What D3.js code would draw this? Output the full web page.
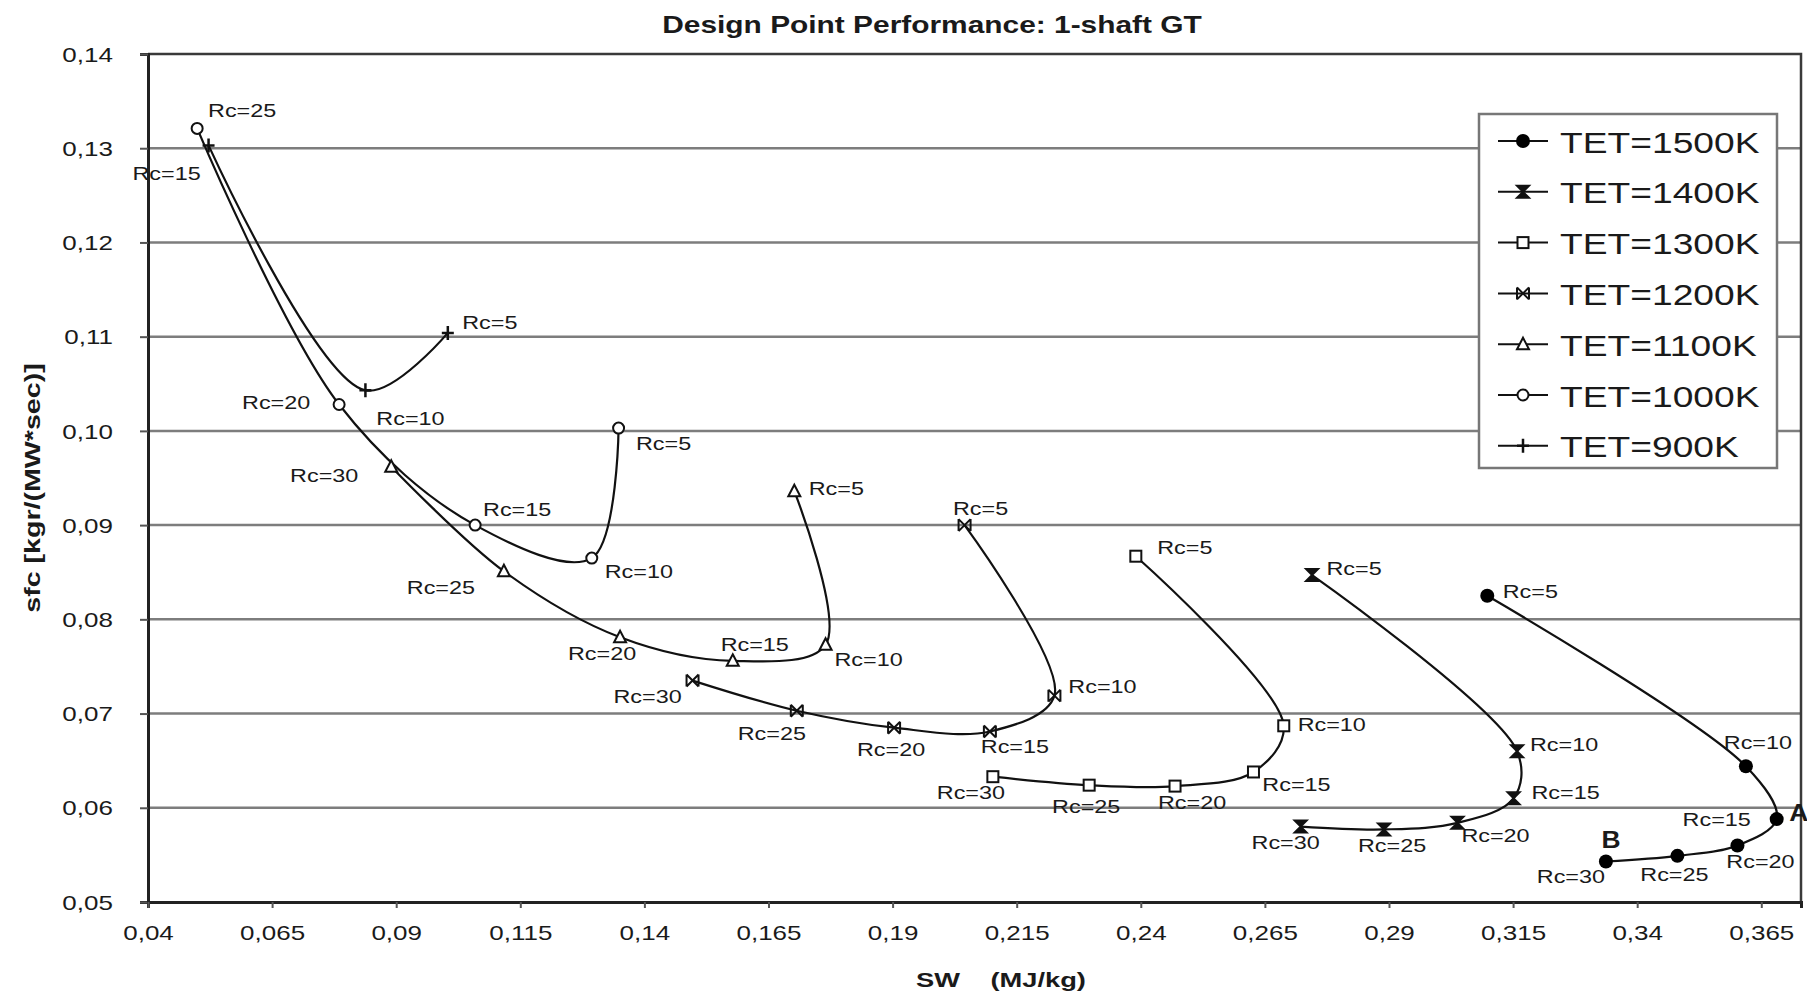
<!DOCTYPE html>
<html>
<head>
<meta charset="utf-8">
<script src="https://cdn.jsdelivr.net/npm/d3@7"></script>
<style>
  body { margin: 0; background: #fff; }
  text { font-family: "Liberation Sans", Arial, sans-serif; fill: #1a1a1a; white-space: pre; }
</style>
</head>
<body>
<div id="chart"></div>
<script>
/* Design point performance of a 1-shaft GT: sfc vs specific work, one curve per TET */

const xTicks = [0.04, 0.065, 0.09, 0.115, 0.14, 0.165, 0.19, 0.215, 0.24, 0.265, 0.29, 0.315, 0.34, 0.365];
const yTicks = [0.05, 0.06, 0.07, 0.08, 0.09, 0.10, 0.11, 0.12, 0.13, 0.14];

const seriesNames = ["TET=1500K", "TET=1400K", "TET=1300K", "TET=1200K", "TET=1100K", "TET=1000K", "TET=900K"];

// pressure ratios (Rc) of each curve
const rcT1500 = [5, 10, 15, 20, 25, 30];
const rcT1400 = [5, 10, 15, 20, 25, 30];
const rcT1300 = [5, 10, 15, 20, 25, 30];
const rcT1200 = [5, 10, 15, 20, 25, 30];
const rcT1100 = [5, 10, 15, 20, 25, 30];
const rcT1000 = [5, 10, 15, 20, 25];
const rcT900  = [5, 10, 15];

// specific work SW (MJ/kg)
const swT1500 = [0.3098, 0.3619, 0.3681, 0.3602, 0.3481, 0.3337];
const swT1400 = [0.2745, 0.3158, 0.3151, 0.3038, 0.2890, 0.2722];
const swT1300 = [0.2390, 0.2688, 0.2627, 0.2469, 0.2296, 0.2102];
const swT1200 = [0.2045, 0.2226, 0.2096, 0.1903, 0.1707, 0.1497];
const swT1100 = [0.1702, 0.1765, 0.1578, 0.1351, 0.1117, 0.0890];
const swT1000 = [0.1348, 0.1294, 0.1059, 0.0785, 0.0499];
const swT900  = [0.1004, 0.0838, 0.0522];

// sfc [kgr/(MW*sec)]
const sfcT1500 = [0.0825, 0.0644, 0.0588, 0.0560, 0.0549, 0.0543];
const sfcT1400 = [0.0847, 0.0660, 0.0610, 0.0584, 0.0577, 0.0580];
const sfcT1300 = [0.0867, 0.0687, 0.0638, 0.0623, 0.0624, 0.0633];
const sfcT1200 = [0.0900, 0.0719, 0.0681, 0.0685, 0.0703, 0.0735];
const sfcT1100 = [0.0936, 0.0773, 0.0756, 0.0781, 0.0851, 0.0962];
const sfcT1000 = [0.1003, 0.0865, 0.0900, 0.1028, 0.1321];
const sfcT900  = [0.1104, 0.1043, 0.1303];

const width = 1807, height = 996;
const margin = { top: 54, right: 6, bottom: 94, left: 148 };

// label placement (px offset from the point, in Rc order)
const labelOffsets = {
  "TET=1500K": [[43, -4], [12, -24], [-60, 0], [23, 16], [-3, 19], [-35, 15]],
  "TET=1400K": [[42, -7], [47, -7], [52, -6], [38, 13], [8, 16], [-15, 16]],
  "TET=1300K": [[49, -9], [48, -1], [43, 13], [17, 16], [-3, 21], [-22, 16]],
  "TET=1200K": [[16, -17], [48, -9], [25, 15], [-3, 22], [-25, 23], [-45, 16]],
  "TET=1100K": [[42, -3], [43, 15], [22, -16], [-18, 16], [-63, 16], [-67, 9]],
  "TET=1000K": [[45, 15], [47, 13], [42, -16], [-63, -2], [45, -18]],
  "TET=900K":  [[42, -10], [45, 28], [-42, 28]]
};

const markerType = {
  "TET=1500K": "dot", "TET=1400K": "hourglass", "TET=1300K": "square",
  "TET=1200K": "bowtie", "TET=1100K": "triangle", "TET=1000K": "circle", "TET=900K": "plus"
};

const table = [
  { name: "TET=1500K", rc: rcT1500, sw: swT1500, sfc: sfcT1500 },
  { name: "TET=1400K", rc: rcT1400, sw: swT1400, sfc: sfcT1400 },
  { name: "TET=1300K", rc: rcT1300, sw: swT1300, sfc: sfcT1300 },
  { name: "TET=1200K", rc: rcT1200, sw: swT1200, sfc: sfcT1200 },
  { name: "TET=1100K", rc: rcT1100, sw: swT1100, sfc: sfcT1100 },
  { name: "TET=1000K", rc: rcT1000, sw: swT1000, sfc: sfcT1000 },
  { name: "TET=900K",  rc: rcT900,  sw: swT900,  sfc: sfcT900 }
].map(s => ({ name: s.name, points: s.rc.map((r, i) => ({ rc: r, sw: s.sw[i], sfc: s.sfc[i], i })) }));

let svg = d3.select("#chart")
  .append("svg")
  .attr("width", width)
  .attr("height", height)
  .attr("viewBox", [0, 0, width, height]);

let x = d3.scaleLinear()
  .domain([0.04, 0.373])
  .range([margin.left, width - margin.right]);

let y = d3.scaleLinear()
  .domain([0.05, 0.14])
  .range([height - margin.bottom, margin.top]);

const comma = v => String(v).replace(".", ",");

// stretched text, like the scan
function addText(parent, px, py, str, size, weight, sx, anchor) {
  return parent.append("text")
    .attr("transform", `translate(${px},${py}) scale(${sx},1)`)
    .attr("text-anchor", anchor || "middle")
    .attr("dominant-baseline", "central")
    .attr("font-size", size)
    .attr("font-weight", weight || "normal")
    .text(str);
}

// gridlines
svg.append("g")
  .selectAll("line")
  .data(yTicks.slice(1, -1))
  .join("line")
  .attr("x1", margin.left)
  .attr("x2", width - margin.right)
  .attr("y1", d => y(d))
  .attr("y2", d => y(d))
  .attr("stroke", "#7d7d7d")
  .attr("stroke-width", 2.5);

// frame: top and right
svg.append("path")
  .attr("d", `M${margin.left},${y(0.14)}H${x(0.373)}V${y(0.05)}`)
  .attr("fill", "none")
  .attr("stroke", "#3a3a3a")
  .attr("stroke-width", 2.5);

// axes
let yAxis = svg.append("g")
  .attr("transform", `translate(${margin.left},0)`)
  .call(d3.axisLeft(y).tickValues(yTicks).tickFormat(d => comma(d3.format(".2f")(d))).tickSize(8).tickPadding(19));

let xAxis = svg.append("g")
  .attr("transform", `translate(0,${height - margin.bottom})`)
  .call(d3.axisBottom(x).tickValues(xTicks).tickFormat(comma).tickSize(6).tickPadding(14));

[yAxis, xAxis].forEach(ax => {
  ax.select(".domain").attr("stroke", "#222").attr("stroke-width", 3);
  ax.selectAll(".tick line").attr("stroke", "#555").attr("stroke-width", 2);
  ax.selectAll(".tick text")
    .attr("font-size", 20)
    .attr("fill", "#1a1a1a")
    .attr("transform", "scale(1.3,1)");
});
yAxis.selectAll(".tick text").attr("dy", "0.36em");
xAxis.selectAll(".tick text").attr("dy", "0.9em");

// curves
let line = d3.line()
  .x(d => x(d.sw))
  .y(d => y(d.sfc))
  .curve(d3.curveCatmullRom.alpha(0.5));

svg.append("g")
  .selectAll("path")
  .data(table)
  .join("path")
  .attr("d", d => line(d.points))
  .attr("fill", "none")
  .attr("stroke", "#111")
  .attr("stroke-width", 2.2);

function drawMarker(g, type) {
  if (type === "dot") {
    g.append("circle").attr("r", 7).attr("fill", "#000");
  } else if (type === "circle") {
    g.append("circle").attr("r", 5.5).attr("fill", "#fff").attr("stroke", "#111").attr("stroke-width", 2);
  } else if (type === "square") {
    g.append("rect").attr("x", -5.5).attr("y", -5.5).attr("width", 11).attr("height", 11)
      .attr("fill", "#fff").attr("stroke", "#111").attr("stroke-width", 2);
  } else if (type === "triangle") {
    g.append("path").attr("d", "M0,-6.5L6,5L-6,5Z").attr("fill", "#fff").attr("stroke", "#111").attr("stroke-width", 2);
  } else if (type === "hourglass") {
    g.append("path").attr("d", "M-6,-6H6L-6,6H6Z").attr("fill", "#111").attr("stroke", "#111").attr("stroke-width", 2);
  } else if (type === "bowtie") {
    g.append("path").attr("d", "M-6,-6L6,6M-6,6L6,-6M-6,-6V6M6,-6V6").attr("fill", "none").attr("stroke", "#111").attr("stroke-width", 2);
  } else if (type === "plus") {
    g.append("path").attr("d", "M-6,0H6M0,-7V7").attr("fill", "none").attr("stroke", "#111").attr("stroke-width", 2.5);
  }
}

let pts = svg.append("g");
table.forEach(s => {
  s.points.forEach(p => {
    let g = pts.append("g").attr("transform", `translate(${x(p.sw)},${y(p.sfc)})`);
    drawMarker(g, markerType[s.name]);
  });
});

// Rc labels
let labels = svg.append("g");
table.forEach(s => {
  s.points.forEach(p => {
    const [dx, dy] = labelOffsets[s.name][p.i];
    addText(labels, x(p.sw) + dx, y(p.sfc) + dy, `Rc=${p.rc}`, 18, "normal", 1.3);
  });
});

// design points A and B on the 1500K curve
addText(svg, x(swT1500[2]) + 22, y(sfcT1500[2]) - 7, "A", 24, "bold", 1.1);
addText(svg, x(swT1500[5]) + 5, y(sfcT1500[5]) - 22, "B", 24, "bold", 1.1);

// legend
let legend = svg.append("g").attr("transform", "translate(1479,114)");
legend.append("rect")
  .attr("width", 298)
  .attr("height", 354)
  .attr("fill", "#fff")
  .attr("stroke", "#777")
  .attr("stroke-width", 2.5);

let item = legend.selectAll(".item")
  .data(seriesNames)
  .join("g")
  .attr("class", "item")
  .attr("transform", (d, i) => `translate(0,${27 + i * 50.8})`);

item.append("line")
  .attr("x1", 19).attr("x2", 69)
  .attr("stroke", "#111").attr("stroke-width", 2);

item.each(function (d) {
  let g = d3.select(this).append("g").attr("transform", "translate(44,0)");
  drawMarker(g, markerType[d]);
});

item.each(function (d) {
  addText(d3.select(this), 81, 1, d, 30, "normal", 1.24, "start");
});

// titles
addText(svg, 932, 25, "Design Point Performance: 1-shaft GT", 23, "bold", 1.3);
addText(svg, 1001, 980, "SW    (MJ/kg)", 21, "bold", 1.3);

svg.append("text")
  .attr("transform", "translate(32,488) rotate(-90) scale(1.3,1)")
  .attr("text-anchor", "middle")
  .attr("dominant-baseline", "central")
  .attr("font-size", 22)
  .attr("font-weight", "bold")
  .text("sfc [kgr/(MW*sec)]");
</script>
</body>
</html>
